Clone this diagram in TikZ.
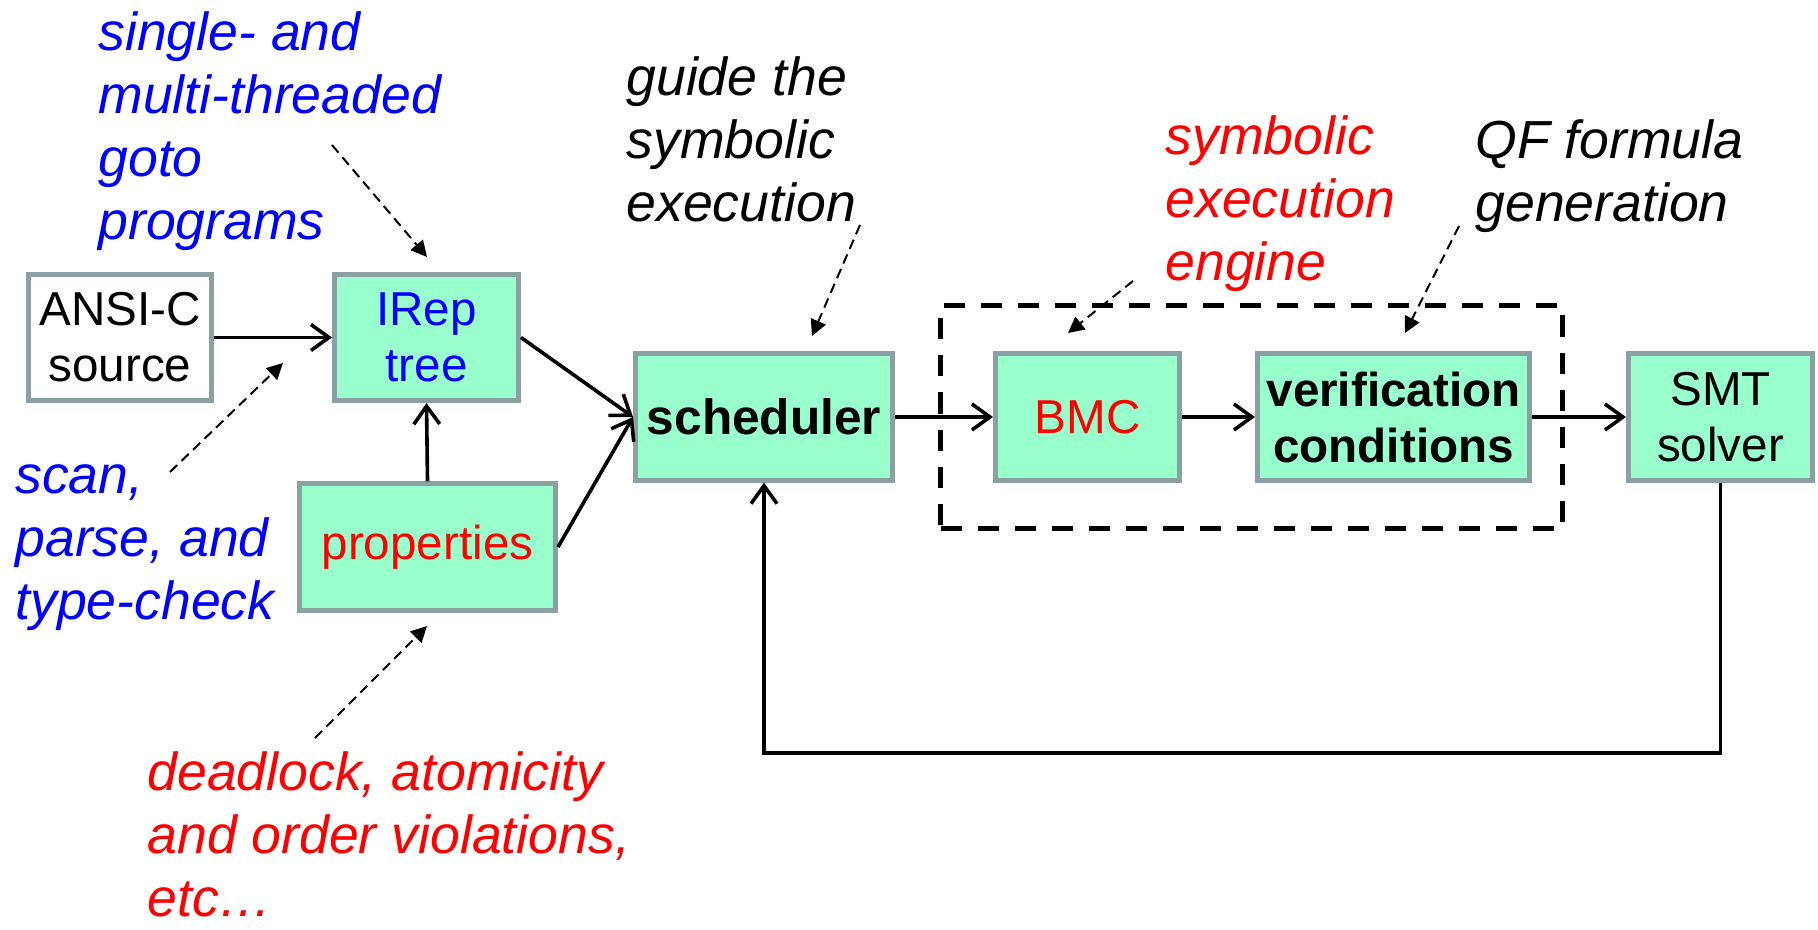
\documentclass[tikz,border=0pt]{standalone}
\usepackage{fontspec}
\setmainfont{Liberation Sans}
\usetikzlibrary{arrows.meta}
\definecolor{mint}{RGB}{153,255,204}
\definecolor{boxgray}{RGB}{139,160,162}
\definecolor{tblue}{RGB}{0,0,255}
\definecolor{tred}{RGB}{255,0,0}
\begin{document}
\begin{tikzpicture}[x=0.5pt,y=-0.5pt,
  blk/.style={draw=boxgray, line width=2.4pt, fill=mint, minimum width=#1,
    minimum height=63.2pt, inner sep=0pt, align=center,
    font=\fontsize{23.8}{28}\selectfont},
  conn/.style={line width=1.8pt, -{Straight Barb[length=9pt,width=13pt]}},
  annarr/.style={line width=1pt, dash pattern=on 5pt off 3pt,
    -{Triangle[length=8pt,width=8pt]}},
  note/.style={anchor=north west, inner sep=0pt, align=left,
    font=\fontsize{26.8}{31.5}\selectfont\itshape},
  dbox/.style={draw=black, line width=2.9pt, dash pattern=on 10.5pt off 8pt,
    minimum width=311pt, minimum height=111.5pt, inner sep=0pt}
]
\fill[white] (0,0) rectangle (1818,930);
\useasboundingbox (0,0) rectangle (1818,930);

% dashed engine frame
\node[dbox] (frame) at (1251.5,417) {};

% blocks
\node[blk=91.6pt, fill=white] (ansi) at (120,337.5) {ANSI-C\\source};
\node[blk=92.1pt, text=tblue] (irep) at (426.5,337.5) {IRep\\tree};
\node[blk=128.1pt, text=tred] (props) at (427.5,547) {properties};
\node[blk=128.6pt, font=\fontsize{24.8}{28}\selectfont\bfseries] (sched) at (764,417) {scheduler};
\node[blk=92.1pt, text=tred] (bmc) at (1087.5,417) {BMC};
\node[blk=136.1pt, font=\fontsize{23.8}{28}\selectfont\bfseries] (vc) at (1393.5,417) {verification\\conditions};
\node[blk=92.1pt] (smt) at (1720.5,417) {SMT\\solver};

% connectors
\draw[conn] (ansi.east) -- (irep.west);
\draw[conn] (props.north) -- (irep.south);
\draw[conn] (irep.east) -- (sched.west);
\draw[conn] (props.east) -- (sched.west);
\draw[conn] (sched.east) -- (bmc.west);
\draw[conn] (bmc.east) -- (vc.west);
\draw[conn] (vc.east) -- (smt.west);
\coordinate (fb) at (764,753);
\draw[conn] (smt.south) |- (fb) -- (sched.south);

% annotations
\node[note, text=tblue] (tgoto) at (98,6) {\strut single- and\\multi-threaded\\goto\\programs};
\node[note] (tguide) at (626,51) {\strut guide the\\symbolic\\execution};
\node[note, text=tred] (tengine) at (1165,110) {\strut symbolic\\execution\\engine};
\node[note] (tqf) at (1475,114) {\strut QF formula\\generation};
\node[note, text=tblue] (tscan) at (15,449) {\strut scan,\\parse, and\\type-check};
\node[note, text=tred] (tdead) at (147,746) {\strut deadlock, atomicity\\and order violations,\\etc…};

% annotation arrows
\coordinate (a1s) at (332,145);  \coordinate (a1e) at (427,257);
\coordinate (a2s) at (860,225);  \coordinate (a2e) at (812,336);
\coordinate (a3s) at (1133,281); \coordinate (a3e) at (1068,333);
\coordinate (a4s) at (1459,226); \coordinate (a4e) at (1405,333);
\coordinate (a5s) at (170,472);  \coordinate (a5e) at (283,363);
\coordinate (a6s) at (315,738);  \coordinate (a6e) at (427,626);
\draw[annarr] (a1s) -- (a1e);
\draw[annarr] (a2s) -- (a2e);
\draw[annarr] (a3s) -- (a3e);
\draw[annarr] (a4s) -- (a4e);
\draw[annarr] (a5s) -- (a5e);
\draw[annarr] (a6s) -- (a6e);
\end{tikzpicture}
\end{document}
